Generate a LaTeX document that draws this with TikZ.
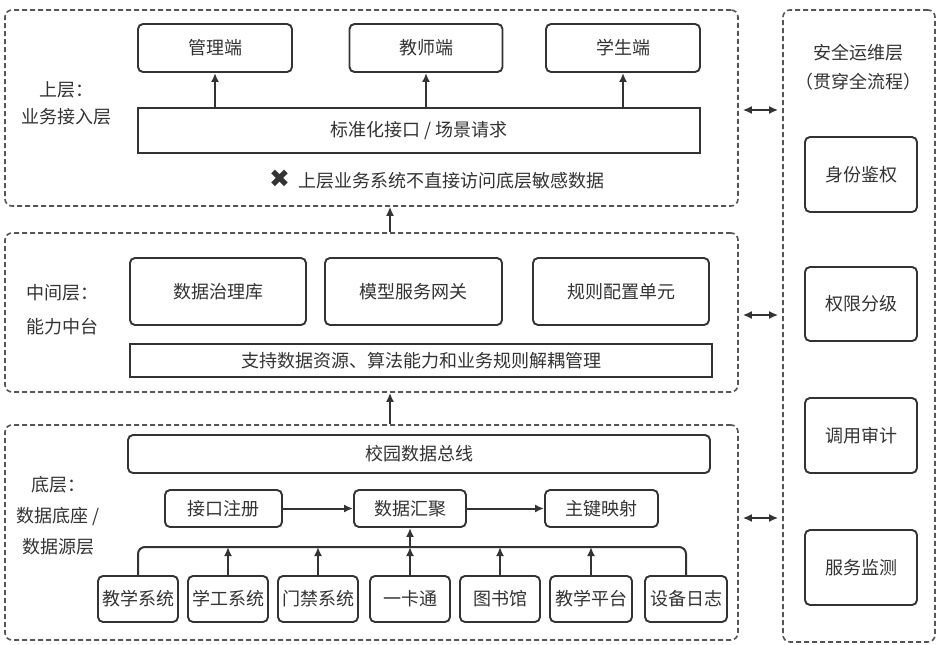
\documentclass[tikz,border=0pt]{standalone}
\usepackage{fontspec}
\setmainfont{Noto Sans CJK SC}
\newfontfamily\symfont{DejaVu Sans}
\usetikzlibrary{arrows.meta}
\definecolor{ink}{HTML}{333333}
\definecolor{dash}{HTML}{555555}
\tikzset{
  layer/.style={draw=dash, line width=1.6pt, dash pattern=on 5pt off 3pt, rounded corners=7pt, inner sep=0pt},
  rbox/.style={draw=ink, line width=1.9pt, rounded corners=5pt, inner sep=0pt, text=ink, font=\fontsize{18}{22}\selectfont},
  sbox/.style={draw=ink, line width=1.9pt, inner sep=0pt, text=ink, font=\fontsize{18}{22}\selectfont},
  lbl/.style={inner sep=0pt, text=ink, align=center, font=\fontsize{18}{22}\selectfont},
  arr/.style={draw=ink, line width=2pt, -{Latex[length=9pt,width=8pt]}},
  ln/.style={draw=ink, line width=2pt},
  darr/.style={draw=ink, line width=2pt, {Latex[length=9pt,width=8pt]}-{Latex[length=9pt,width=8pt]}, shorten <=4pt, shorten >=4pt}
}
\begin{document}
\begin{tikzpicture}[x=1pt,y=-1pt]
\useasboundingbox (0,0) rectangle (940,645);
\fill[white] (0,0) rectangle (940,645);
% layers
\node[layer, minimum width=733pt, minimum height=196pt] (top) at (371.5,108) {};
\node[layer, minimum width=733pt, minimum height=159pt] (mid) at (371.5,312.5) {};
\node[layer, minimum width=733pt, minimum height=215pt] (bot) at (371.5,532.5) {};
\node[layer, minimum width=152pt, minimum height=632pt] (sec) at (859,326) {};
% top layer
\node[lbl] (topl) at (66,103) {上层：\\[5pt]业务接入层};
\node[rbox, minimum width=154pt, minimum height=48pt] (gl) at (215,48) {管理端};
\node[rbox, minimum width=153pt, minimum height=48pt] (js) at (426,48) {教师端};
\node[rbox, minimum width=154pt, minimum height=48pt] (xs) at (623,48) {学生端};
\node[sbox, minimum width=562pt, minimum height=45pt] (api) at (419,130.5) {标准化接口 / 场景请求};
\draw[arr] (gl.south |- api.north) -- (gl.south);
\draw[arr] (js.south |- api.north) -- (js.south);
\draw[arr] (xs.south |- api.north) -- (xs.south);
\node[lbl] (note) at (437,180) {{\symfont\fontsize{25}{25}\selectfont ✖}\hspace{9pt}上层业务系统不直接访问底层敏感数据};
% middle layer
\node[lbl] (midl) at (62,310) {中间层：\\[12pt]能力中台};
\node[rbox, minimum width=176pt, minimum height=67pt] (zl) at (218,291.5) {数据治理库};
\node[rbox, minimum width=177pt, minimum height=67pt] (mx) at (413.5,291.5) {模型服务网关};
\node[rbox, minimum width=176pt, minimum height=67pt] (gz) at (621,291.5) {规则配置单元};
\node[sbox, minimum width=582pt, minimum height=33pt] (jo) at (421,360.5) {支持数据资源、算法能力和业务规则解耦管理};
% bottom layer
\node[lbl] (botl) at (58,516) {底层：\\[9pt]数据底座 /\\[9pt]数据源层};
\node[rbox, minimum width=582pt, minimum height=38pt] (bus) at (419,454) {校园数据总线};
\node[rbox, minimum width=117pt, minimum height=37pt] (reg) at (223.5,508.5) {接口注册};
\node[rbox, minimum width=112pt, minimum height=37pt] (agg) at (410,508.5) {数据汇聚};
\node[rbox, minimum width=113pt, minimum height=37pt] (key) at (601.5,508.5) {主键映射};
\draw[arr] (reg) -- (agg);
\draw[arr] (agg) -- (key);
\node[rbox, minimum width=80pt, minimum height=46pt] (s1) at (138,599) {教学系统};
\node[rbox, minimum width=80pt, minimum height=46pt] (s2) at (228,599) {学工系统};
\node[rbox, minimum width=80pt, minimum height=46pt] (s3) at (318,599) {门禁系统};
\node[rbox, minimum width=80pt, minimum height=46pt] (s4) at (410,599) {一卡通};
\node[rbox, minimum width=80pt, minimum height=46pt] (s5) at (500,599) {图书馆};
\node[rbox, minimum width=82pt, minimum height=46pt] (s6) at (591,599) {教学平台};
\node[rbox, minimum width=82pt, minimum height=46pt] (s7) at (686,599) {设备日志};
\coordinate (busy) at (0,547);
\draw[ln, rounded corners=7pt] (s1.north) -- (s1.north |- busy) -- (s7.north |- busy) -- (s7.north);
\foreach \s in {s2,s3,s4,s5,s6} {\draw[arr] (\s.north) -- (\s.north |- busy);}
\draw[arr] (s4.north |- busy) -- (agg.south);
% between layers
\draw[arr] (mid.north -| 390,0) -- (top.south -| 390,0);
\draw[arr] (bot.north -| 390,0) -- (mid.south -| 390,0);
% security layer
\node[lbl] (secl) at (858,67.5) {安全运维层\\[7pt]（贯穿全流程）};
\node[rbox, minimum width=112pt, minimum height=75pt] (r1) at (861,174.5) {身份鉴权};
\node[rbox, minimum width=112pt, minimum height=74pt] (r2) at (861,304) {权限分级};
\node[rbox, minimum width=112pt, minimum height=75pt] (r3) at (861,435.5) {调用审计};
\node[rbox, minimum width=112pt, minimum height=75pt] (r4) at (861,567.5) {服务监测};
\draw[darr] (top.east |- 0,110) -- (sec.west |- 0,110);
\draw[darr] (mid.east |- 0,315) -- (sec.west |- 0,315);
\draw[darr] (bot.east |- 0,518) -- (sec.west |- 0,518);
\end{tikzpicture}
\end{document}
